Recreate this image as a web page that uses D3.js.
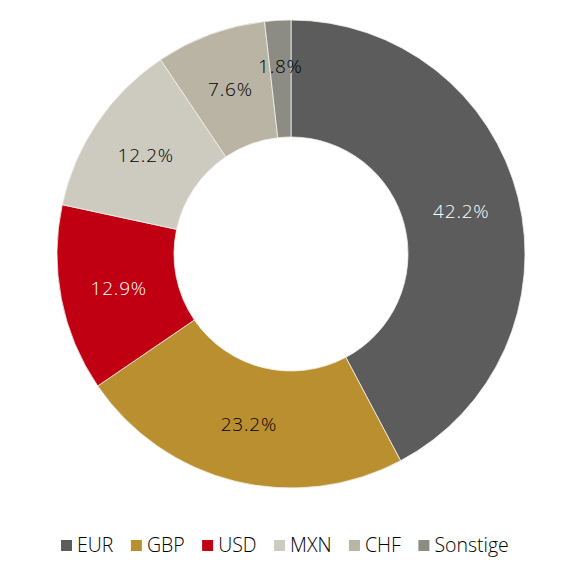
<!DOCTYPE html>
<html lang="de">
<head>
<meta charset="UTF-8">
<title>Währungen</title>
<script src="https://d3js.org/d3.v7.min.js"></script>
<style>
    body {margin: 0; background: #fff;}
    text {font-family: "Open Sans", "Noto Sans", sans-serif; font-weight: 300;}
</style>
</head>
<body>
<div id="chart"></div>
<script>
    // data
    var currencies = ["EUR", "GBP", "USD", "MXN", "CHF", "Sonstige"];
    var shares = [42.2, 23.2, 12.9, 12.2, 7.6, 1.8];
    var colours = ["#5b5c5b", "#ba8f2f", "#c00012", "#cdcbbf", "#bab4a4", "#8c8c84"];
    var labelColours = ["#fff", "#000", "#fff", "#000", "#000", "#000"];

    var width = 580, height = 580,
        cx = 291, cy = 254,
        outer = 234, inner = 117;

    var svg = d3.select("#chart").append("svg")
        .attr("width", width)
        .attr("height", height);

    var g = svg.append("g")
        .attr("transform", "translate(" + cx + "," + cy + ")");

    var pie = d3.pie().sort(null).value(function(d) {return d;});
    var arcs = pie(shares);

    var arc = d3.arc().innerRadius(inner).outerRadius(outer);

    g.selectAll("path")
        .data(arcs)
        .enter().append("path")
        .attr("d", arc)
        .attr("fill", function(d, i) {return colours[i];})
        .attr("stroke", "#f4f1ea")
        .attr("stroke-width", 0.8);

    g.selectAll(".lbl")
        .data(arcs)
        .enter().append("text")
        .attr("class", "lbl")
        .attr("transform", function(d) {
            var c = arc.centroid(d);
            // tiny slice: label pushed a bit outward
            if (d.value < 3) { c = [c[0] * 1.07, c[1] * 1.07]; }
            return "translate(" + c + ")";
        })
        .attr("text-anchor", "middle")
        .attr("dy", "0.36em")
        .style("font-size", "19px")
        .style("letter-spacing", "0.8px")
        .attr("fill", function(d, i) {return labelColours[i];})
        .text(function(d) {return d.value.toFixed(1) + "%";});

    // legend
    var legend = svg.append("g").attr("transform", "translate(61,545)");
    var xPos = 0;
    currencies.forEach(function(name, i) {
        var item = legend.append("g").attr("transform", "translate(" + xPos + ",0)");
        item.append("rect")
            .attr("x", 0).attr("y", -5)
            .attr("width", 11).attr("height", 11)
            .attr("fill", colours[i]);
        var t = item.append("text")
            .attr("x", 16)
            .attr("dy", "0.36em")
            .style("font-size", "19.5px")
            .attr("fill", "#000")
            .text(name);
        xPos += 16 + t.node().getComputedTextLength() + 17.5;
    });
</script>
</body>
</html>
